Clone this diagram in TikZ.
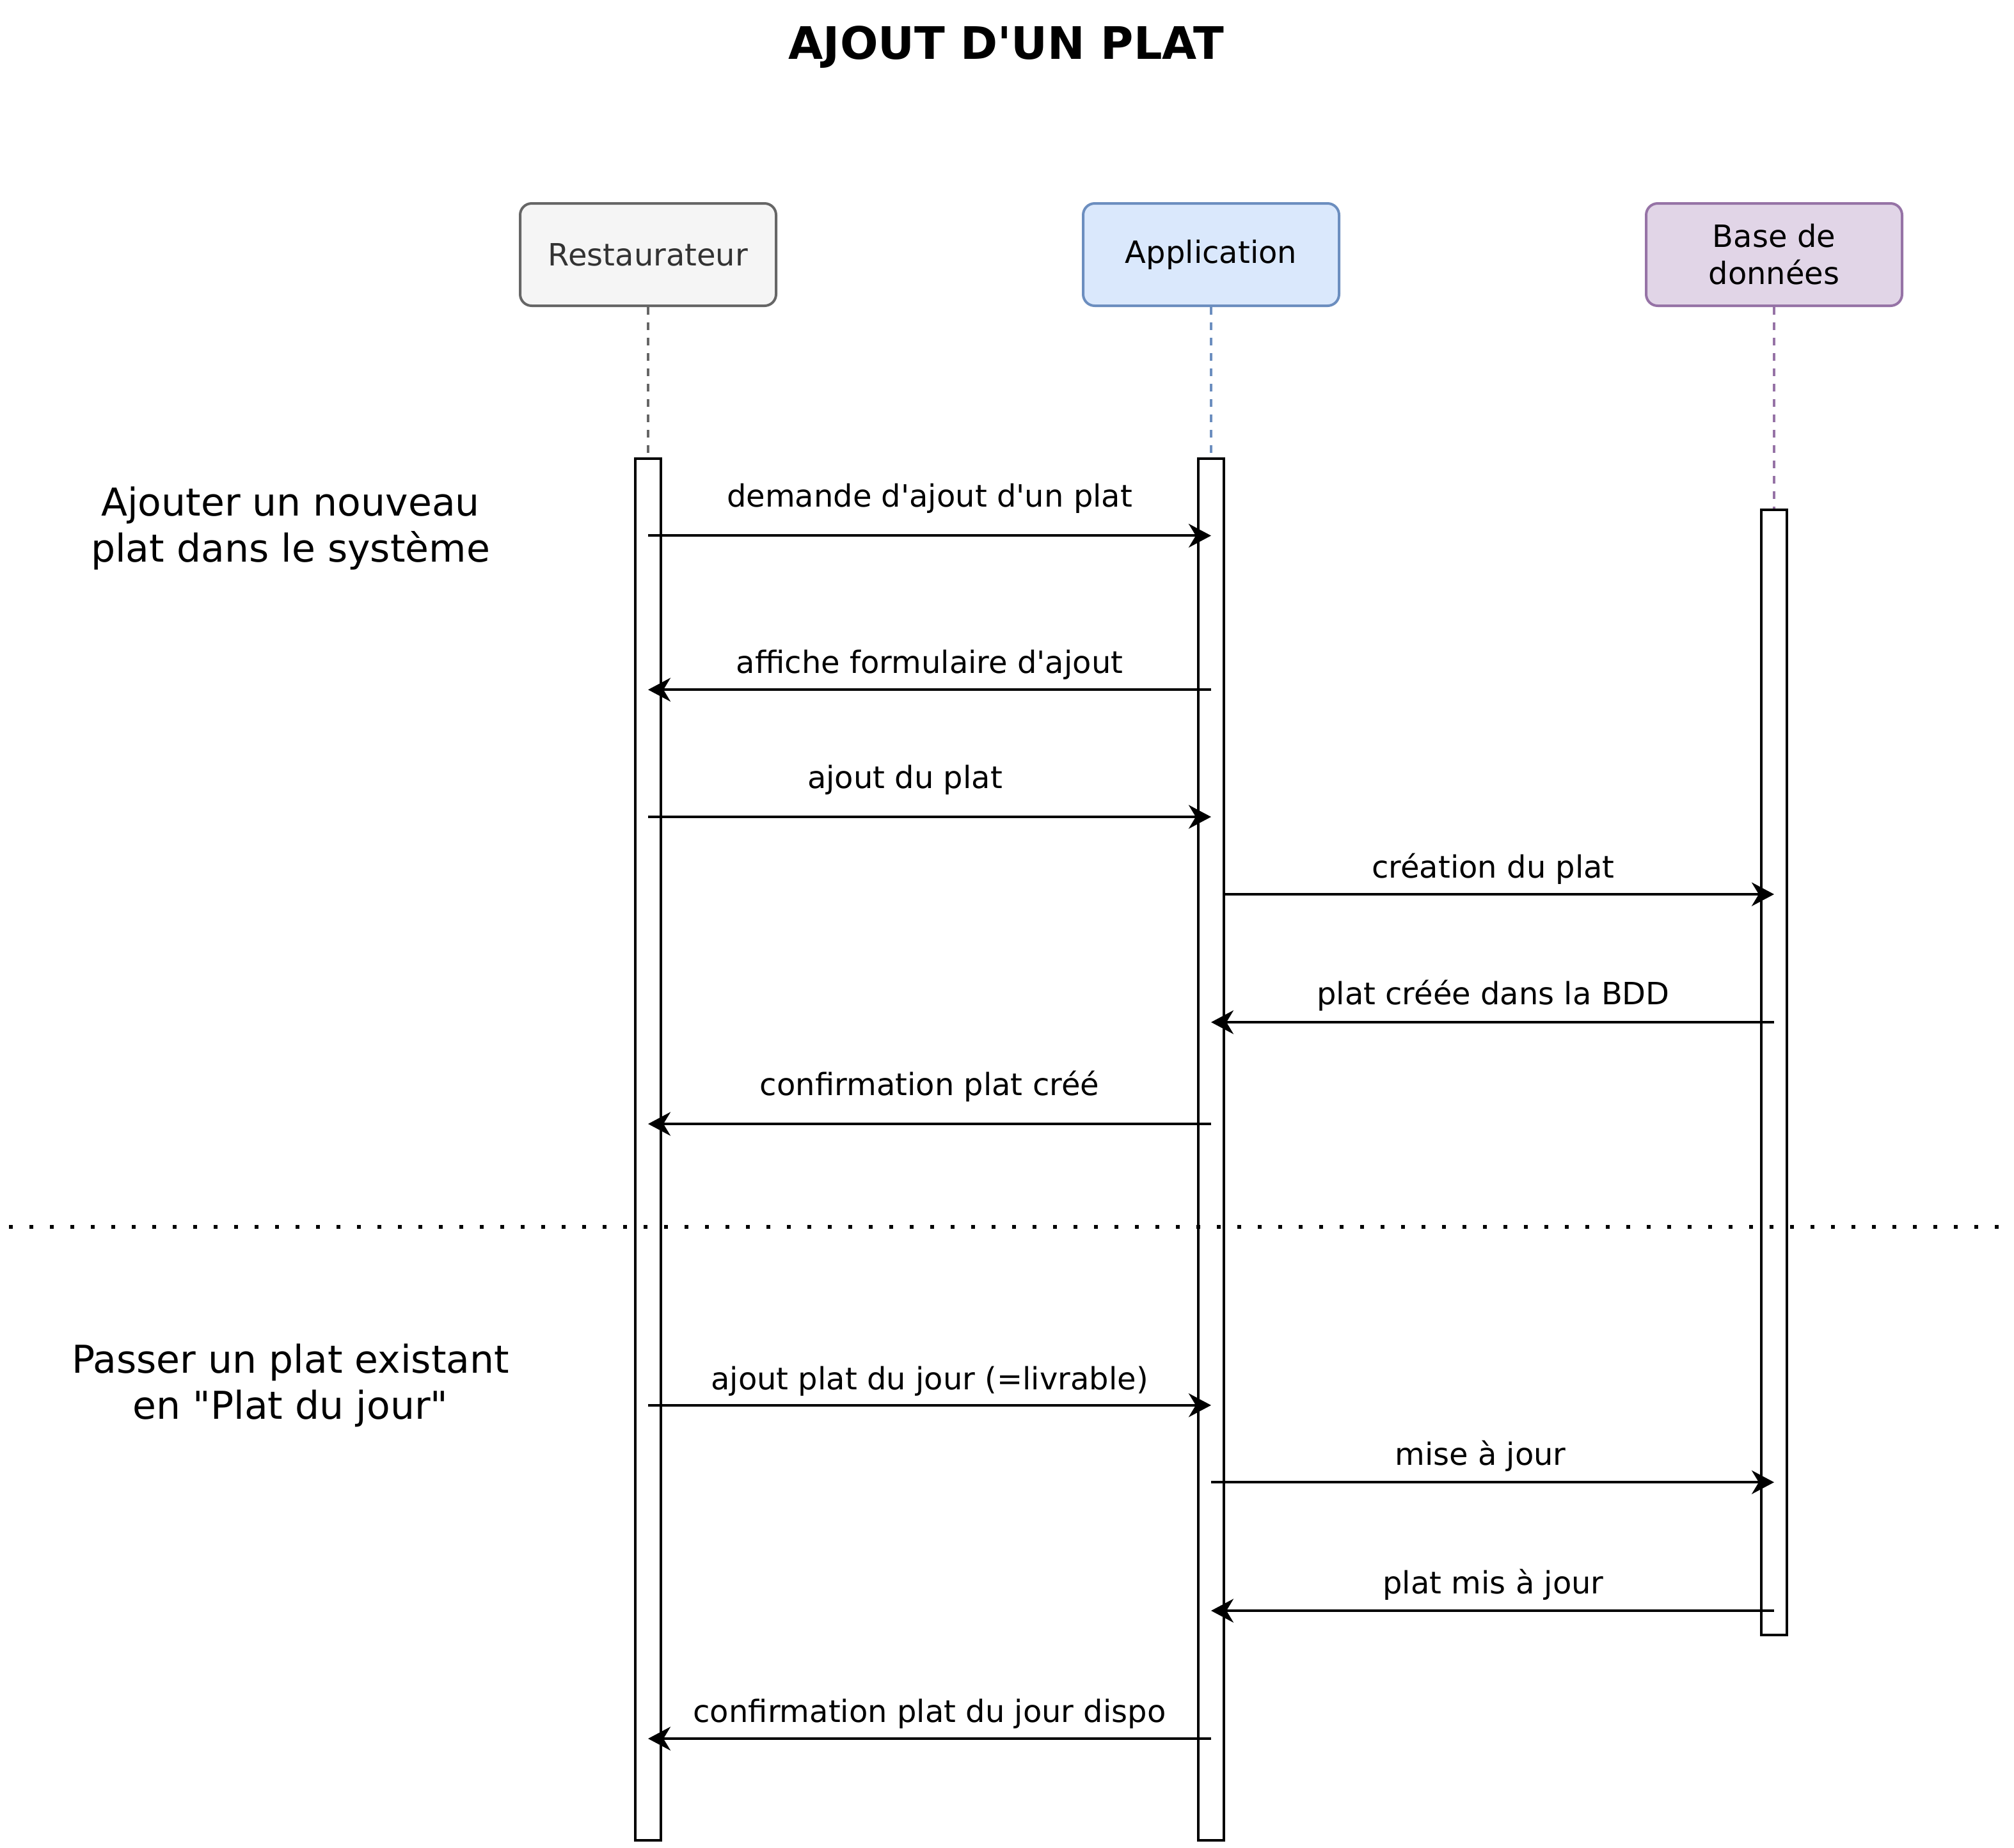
\documentclass[tikz,border=0pt]{standalone}
\usepackage{fontspec}
\setmainfont{DejaVu Sans}[Ligatures=TeXOff]
\usetikzlibrary{arrows.meta}
\definecolor{grayS}{HTML}{666666}
\definecolor{grayF}{HTML}{F5F5F5}
\definecolor{grayT}{HTML}{333333}
\definecolor{blueS}{HTML}{6C8EBF}
\definecolor{blueF}{HTML}{DAE8FC}
\definecolor{purpS}{HTML}{9673A6}
\definecolor{purpF}{HTML}{E1D5E7}
\tikzset{
  actor/.style={draw, line width=2pt, rounded corners=9pt, minimum width=200pt,
    minimum height=80pt, inner sep=0pt, align=center,
    font=\fontsize{24pt}{29pt}\selectfont},
  bar/.style={draw=black, fill=white, line width=2pt, minimum width=20pt, inner sep=0pt},
  life/.style={line width=2pt, dash pattern=on 6pt off 6pt},
  msg/.style={line width=2pt, -{Stealth[length=17.5pt,width=18.5pt,inset=5.5pt]}},
  lbl/.style={anchor=base, inner sep=0pt, font=\fontsize{24pt}{29pt}\selectfont},
  note/.style={anchor=base, inner sep=0pt, align=center, font=\fontsize{30pt}{36pt}\selectfont},
  sepline/.style={line width=3pt, dash pattern=on 3pt off 13pt}
}
\begin{document}
\begin{tikzpicture}[x=1pt,y=-1pt]
\useasboundingbox (0,0) rectangle (1574,1444);

% title
\node[anchor=base, inner sep=0pt, font=\fontsize{35pt}{41pt}\selectfont\bfseries] (title) at (786.5,46) {AJOUT D'UN PLAT};

% actors
\node[actor, draw=grayS, fill=grayF, text=grayT] (rest) at (506.5,199) {Restaurateur};
\node[actor, draw=blueS, fill=blueF] (app) at (946.5,199) {Application};
\node[actor, draw=purpS, fill=purpF] (bdd) at (1386.5,199) {Base de\\données};

% activation bars
\node[bar, minimum height=1079.75pt] (barR) at (506.5,898.6) {};
\node[bar, minimum height=1079.75pt] (barA) at (946.5,898.6) {};
\node[bar, minimum height=879.5pt] (barB) at (1386.5,838.25) {};

% lifelines
\draw[life, grayS] (rest.south) -- (barR.north);
\draw[life, blueS] (app.south) -- (barA.north);
\draw[life, purpS] (bdd.south) -- (barB.north);

% separator
\coordinate (sepL) at (7,959);
\coordinate (sepR) at (1574,959);
\draw[sepline] (sepL) -- (sepR);

% notes
\node[note] (n1) at (227,439) {Ajouter un nouveau\\plat dans le système};
\node[note] (n2) at (227,1109) {Passer un plat existant\\en "Plat du jour"};

% message end points
\coordinate (r1) at (506.5,418.7);  \coordinate (a1) at (946.5,418.7);
\coordinate (r2) at (506.5,539.1);  \coordinate (a2) at (946.5,539.1);
\coordinate (r3) at (506.5,638.5);  \coordinate (a3) at (946.5,638.5);
\coordinate (a4) at (957,699);      \coordinate (b4) at (1386.5,699);
\coordinate (a5) at (946.5,799);    \coordinate (b5) at (1386.5,799);
\coordinate (r6) at (506.5,878.5);  \coordinate (a6) at (946.5,878.5);
\coordinate (r7) at (506.5,1098.4); \coordinate (a7) at (946.5,1098.4);
\coordinate (a8) at (946.5,1158.6); \coordinate (b8) at (1386.5,1158.6);
\coordinate (a9) at (946.5,1259);   \coordinate (b9) at (1386.5,1259);
\coordinate (r10) at (506.5,1359);  \coordinate (a10) at (946.5,1359);

% messages
\draw[msg] (r1) -- (a1);
\node[lbl] (l1) at (726.5,396) {demande d'ajout d'un plat};
\draw[msg] (a2) -- (r2);
\node[lbl] (l2) at (726.5,526) {affiche formulaire d'ajout};
\draw[msg] (r3) -- (a3);
\node[lbl] (l3) at (707.3,616) {ajout du plat};
\draw[msg] (a4) -- (b4);
\node[lbl] (l4) at (1167,686) {création du plat};
\draw[msg] (b5) -- (a5);
\node[lbl] (l5) at (1167,785) {plat créée dans la BDD};
\draw[msg] (a6) -- (r6);
\node[lbl] (l6) at (726.5,856) {confirmation plat créé};
\draw[msg] (r7) -- (a7);
\node[lbl] (l7) at (726.5,1086) {ajout plat du jour (=livrable)};
\draw[msg] (a8) -- (b8);
\node[lbl] (l8) at (1157,1145) {mise à jour};
\draw[msg] (b9) -- (a9);
\node[lbl] (l9) at (1167,1245.5) {plat mis à jour};
\draw[msg] (a10) -- (r10);
\node[lbl] (l10) at (726.5,1346) {confirmation plat du jour dispo};
\end{tikzpicture}
\end{document}
